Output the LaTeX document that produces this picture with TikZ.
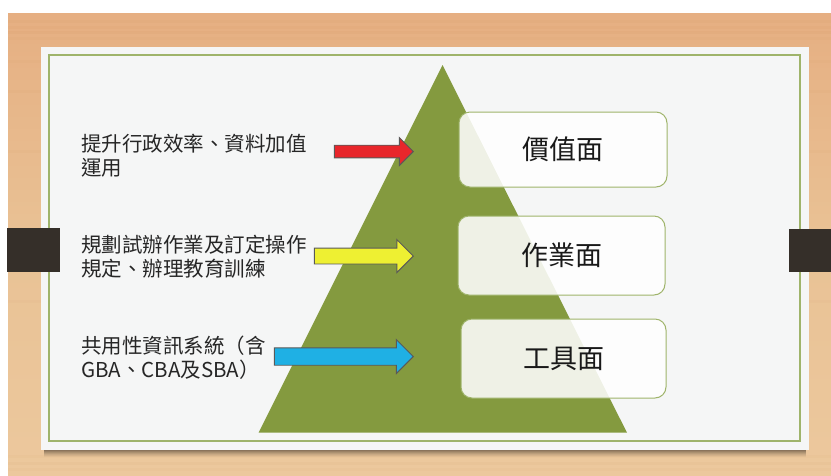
\documentclass[tikz,border=0pt]{standalone}
\usepackage{fontspec}
\newfontfamily\cjk{Noto Sans CJK TC}
\usetikzlibrary{shapes.arrows}
\definecolor{woodtop}{HTML}{E6AF82}
\definecolor{woodmid}{HTML}{E9C295}
\definecolor{woodbot}{HTML}{ECC89D}
\definecolor{cardfill}{HTML}{F5F6F6}
\definecolor{frameline}{HTML}{9FB46B}
\definecolor{olive}{HTML}{849A3F}
\definecolor{tabbrown}{HTML}{352F29}
\definecolor{txt}{HTML}{262626}
\definecolor{arrred}{HTML}{E8262B}
\definecolor{arryellow}{HTML}{EEF032}
\definecolor{arrblue}{HTML}{1FB0E4}
\tikzset{
  levelbox/.style={draw=frameline, line width=1pt, fill=white, fill opacity=0.87,
    text opacity=1, rounded corners=11pt, inner sep=0pt,
    font=\cjk\fontsize{27}{30}\selectfont, text=black!90},
  blockarrow/.style={single arrow, draw=black!65, line width=0.9pt,
    inner xsep=0pt, shape border rotate=0, anchor=tip, single arrow tip angle=90},
  sidetext/.style={align=left, anchor=base west, inner sep=0pt, text=txt,
    font=\cjk\fontsize{20.5}{24}\selectfont},
  tab/.style={fill=tabbrown}
}
\begin{document}
\begin{tikzpicture}[x=1pt,y=-1pt]
\useasboundingbox (0,0) rectangle (831,475);
\fill[white] (0,0) rectangle (831,475);
% wood background
\shade[top color=woodtop, bottom color=woodbot, middle color=woodmid] (8,13) rectangle (831,475);
\foreach \yy/\op in {20/0.06,26/0.05,31/0.07,37/0.04,60/0.04,90/0.03,150/0.03,300/0.03,455/0.04,462/0.05,468/0.04}
  \fill[brown, opacity=\op] (8,\yy) rectangle (831,\yy+2.5);
% card shadow
\foreach \d/\op in {1/0.10,2/0.09,3/0.08,4/0.07,5/0.06,6/0.05,7/0.04}
  \fill[black, opacity=\op] (44,47+\d) rectangle (806,450+\d);
% card
\fill[cardfill] (41,47) rectangle (809,450);
\draw[frameline, line width=1.2pt] (49,55) rectangle (800,441);
% tabs
\fill[tab] (7,228) rectangle (60,272);
\fill[tab] (789,229) rectangle (831,272);
% pyramid
\fill[olive] (442.5,65) -- (627,432.7) -- (258.6,432.7) -- cycle;
% level boxes
\node[levelbox, minimum width=208pt, minimum height=75pt] (value) at (563,149.5) {價值面};
\node[levelbox, minimum width=207pt, minimum height=79pt] (work) at (561.5,255.5) {作業面};
\node[levelbox, minimum width=205pt, minimum height=79pt] (tool) at (563.5,358.5) {工具面};
% arrows
\node[blockarrow, fill=arrred, minimum height=79pt, inner ysep=5.85pt, single arrow head extend=7.65pt] (a1) at (414,151.5) {};
\node[blockarrow, fill=arryellow, minimum height=99pt, inner ysep=7.5pt, single arrow head extend=8.5pt] (a2) at (414,256) {};
\node[blockarrow, fill=arrblue, minimum height=139pt, inner ysep=8.25pt, single arrow head extend=8.25pt] (a3) at (414,356.5) {};
% side texts (base anchor = baseline of the last line)
\node[sidetext] (t1) at (81,175) {提升行政效率、資料加值\\運用};
\node[sidetext] (t2) at (81,276) {規劃試辦作業及訂定操作\\規定、辦理教育訓練};
\node[sidetext] (t3) at (81,377) {共用性資訊系統（含\\GBA、CBA及SBA）};
\end{tikzpicture}
\end{document}
